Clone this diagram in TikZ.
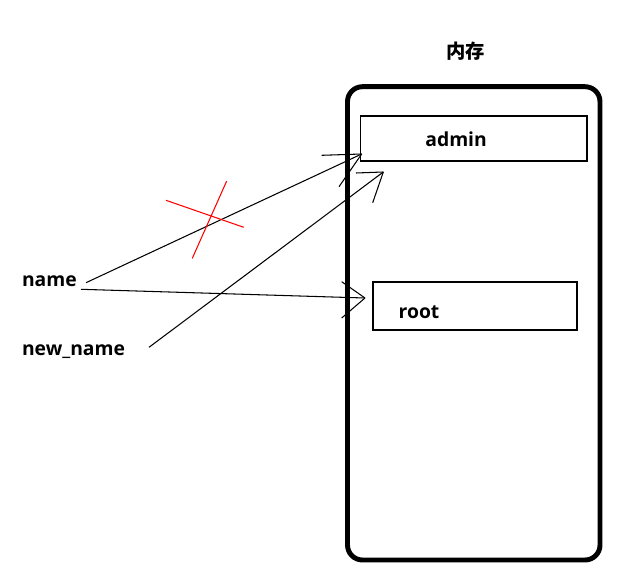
\documentclass[tikz,border=0pt]{standalone}
\usepackage{fontspec}
\setmainfont{Open Sans}
\newfontfamily\cjk{Noto Sans CJK SC}

\begin{document}
\begin{tikzpicture}[x=0.02cm,y=-0.02cm,
    lbl/.style={font=\bfseries\fontsize{11}{13}\selectfont, inner sep=0pt, anchor=base west},
    box/.style={draw, line width=0.6pt, inner sep=0pt},
    thinline/.style={line width=0.6pt},
    cross/.style={red, line width=0.6pt}]
      \useasboundingbox (0,0) rectangle (622,581);
      % memory
      \draw[line width=2.8pt, rounded corners=8.5pt] (347.5,86.7) rectangle (600,560);
      \node[font=\cjk\bfseries\fontsize{11}{13}\selectfont] (mem) at (465.5,51) {内存};
      \node[box, minimum width=4.53cm, minimum height=0.9cm] (adminbox) at (473.75,138.5) {};
      \node[box, minimum width=4.08cm, minimum height=0.96cm] (rootbox) at (475,306) {};
      \node[lbl] (admin) at (425,146.7) {admin};
      \node[lbl] (root) at (398.3,318.3) {root};
      % variables
      \node[lbl] (name) at (21.7,286) {name};
      \node[lbl] (newname) at (21.7,355) {new\_name};
      \coordinate (n1) at (86,282.7);
      \coordinate (n2) at (81,289.3);
      \coordinate (nn) at (149,347.3);
      \coordinate (ta) at (361.7,154);
      \coordinate (tb) at (383.3,172);
      \coordinate (tc) at (365,298);
      \draw[thinline] (n1) -- (ta);
      \draw[thinline] (n2) -- (tc);
      \draw[thinline] (nn) -- (tb);
      \draw[thinline] (ta) -- ++(-40,1.3) (ta) -- ++(-22.7,32.7);
      \draw[thinline] (tb) -- ++(-27.3,1) (tb) -- ++(-10.6,30.7);
      \draw[thinline] (tc) -- ++(-23.3,-16.3) (tc) -- ++(-23.3,20);
      % crossed out
      \draw[cross] (166,200.3) -- (243.7,227.3);
      \draw[cross] (226.7,181) -- (192.3,258.3);
\end{tikzpicture}
\end{document}
